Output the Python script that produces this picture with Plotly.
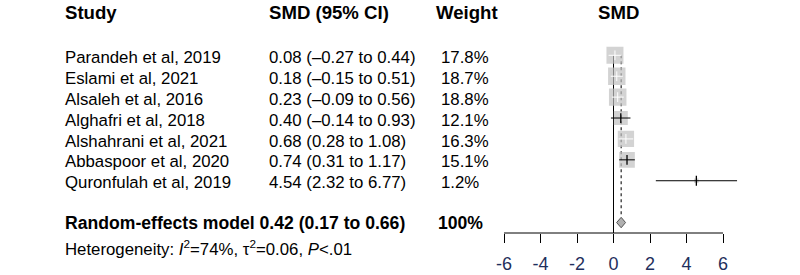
import plotly.graph_objects as go

# ---------------- data ----------------
studies = ["Parandeh et al, 2019", "Eslami et al, 2021", "Alsaleh et al, 2016",
           "Alghafri et al, 2018", "Alshahrani et al, 2021", "Abbaspoor et al, 2020",
           "Quronfulah et al, 2019"]
smd = [0.08, 0.18, 0.23, 0.40, 0.68, 0.74, 4.54]
ci_low = [-0.27, -0.15, -0.09, -0.14, 0.28, 0.31, 2.32]
ci_high = [0.44, 0.51, 0.56, 0.93, 1.08, 1.17, 6.77]
weights = [17.8, 18.7, 18.8, 12.1, 16.3, 15.1, 1.2]

pooled_est = 0.42
pooled_low = 0.17
pooled_high = 0.66
pooled_label = "Random-effects model"
heterogeneity = "Heterogeneity: <i>I</i><sup>2</sup>=74%, τ<sup>2</sup>=0.06, <i>P</i>&lt;.01"

headers = ["Study", "SMD (95% CI)", "Weight", "SMD"]
tick_vals = [-6, -4, -2, 0, 2, 4, 6]
tick_text = ["-6", "-4", "-2", "0", "2", "4", "6"]

# ---------------- layout constants ----------------
W, H = 800, 275
X_RANGE = [-7, 8]
X_DOMAIN = [485.75 / W, 759.5 / W]
PX_PER_UNIT = (X_DOMAIN[1] - X_DOMAIN[0]) * W / (X_RANGE[1] - X_RANGE[0])
Y_RANGE = [8.5, -2.5]
Y_DOMAIN = [(H - 233.0) / H, (H - 3.05) / H]

FONT = "Liberation Sans, Arial, Helvetica, sans-serif"
BODY = 16.8
HEAD = 18.6
SQ_COLOR = "#c0c0c0"
BOX_SCALE = 4.03  # px per sqrt(weight)

rows = list(range(len(studies)))
pooled_row = len(studies) + 1
het_row = pooled_row + 1.2
header_row = -2.05
TEXT_DY = 0.1  # study text sits slightly lower than the boxes


def row_to_paper(r):
    frac = (r - Y_RANGE[1]) / (Y_RANGE[0] - Y_RANGE[1])
    return Y_DOMAIN[1] - frac * (Y_DOMAIN[1] - Y_DOMAIN[0])


fig = go.Figure()

# squares
sizes = [BOX_SCALE * w ** 0.5 for w in weights]
fig.add_trace(go.Scatter(
    x=smd, y=rows, mode="markers",
    marker=dict(symbol="square", size=sizes, color=SQ_COLOR, line=dict(width=0)),
    hoverinfo="skip", showlegend=False))

# CI lines: white if inside square, black otherwise
wx, wy, bx, by = [], [], [], []
wtx, wty, btx, bty = [], [], [], []
for e, lo, hi, s, r in zip(smd, ci_low, ci_high, sizes, rows):
    half = s / 2 / PX_PER_UNIT
    inside = (e - lo) < half and (hi - e) < half
    if inside:
        wx += [lo, hi, None]; wy += [r, r, None]; wtx.append(e); wty.append(r)
    else:
        bx += [lo, hi, None]; by += [r, r, None]; btx.append(e); bty.append(r)

fig.add_trace(go.Scatter(x=wx, y=wy, mode="lines", line=dict(color="white", width=1),
                         hoverinfo="skip", showlegend=False))
fig.add_trace(go.Scatter(x=bx, y=by, mode="lines", line=dict(color="black", width=1),
                         hoverinfo="skip", showlegend=False))
fig.add_trace(go.Scatter(x=wtx, y=wty, mode="markers",
                         marker=dict(symbol="line-ns-open", size=7, color="white",
                                     line=dict(color="white", width=1)),
                         hoverinfo="skip", showlegend=False))
fig.add_trace(go.Scatter(x=btx, y=bty, mode="markers",
                         marker=dict(symbol="line-ns-open", size=7, color="black",
                                     line=dict(color="black", width=1.3)),
                         hoverinfo="skip", showlegend=False))

# diamond
dh = 0.25
fig.add_trace(go.Scatter(
    x=[pooled_low, pooled_est, pooled_high, pooled_est, pooled_low],
    y=[pooled_row, pooled_row - dh, pooled_row, pooled_row + dh, pooled_row],
    mode="lines", fill="toself", fillcolor="#b0b0b0",
    line=dict(color="#555555", width=1), hoverinfo="skip", showlegend=False))

shapes = [
    dict(type="line", xref="x", yref="y", x0=0, x1=0, y0=rows[0], y1=Y_RANGE[0],
         line=dict(color="black", width=1), layer="below"),
    dict(type="line", xref="x", yref="y", x0=pooled_est, x1=pooled_est,
         y0=rows[0], y1=pooled_row - dh,
         line=dict(color="#222222", width=1.2, dash="dot"), layer="below"),
    dict(type="line", xref="x", yref="y domain", x0=tick_vals[0], x1=tick_vals[-1],
         y0=0, y1=0, line=dict(color="black", width=1)),
]

ann = []


def txt(x_px, r, s, size=BODY, bold=False, anchor="left"):
    ann.append(dict(x=x_px / W, xref="paper", y=row_to_paper(r), yref="paper",
                    text=f"<b>{s}</b>" if bold else s,
                    showarrow=False, xanchor=anchor, yanchor="middle", borderpad=0,
                    font=dict(family=FONT, size=size, color="black")))


col_study, col_ci, col_w = 64, 268, 440
txt(col_study, header_row, headers[0], HEAD, True)
txt(col_ci, header_row, headers[1], HEAD, True)
txt(col_w - 5, header_row, headers[2], HEAD, True)
txt(618.7, header_row, headers[3], HEAD, True, anchor="center")


def f(v):
    return f"{v:.2f}".replace("-", "–")


for r, name, e, lo, hi, w in zip(rows, studies, smd, ci_low, ci_high, weights):
    txt(col_study, r + TEXT_DY, name)
    txt(col_ci, r + TEXT_DY, f"{f(e)} ({f(lo)} to {f(hi)})")
    txt(col_w, r + TEXT_DY, f"{w:.1f}%")

txt(col_study, pooled_row, f"{pooled_label} {pooled_est:.2f} ({pooled_low:.2f} to {pooled_high:.2f})", 17.6, True)
txt(col_w - 3, pooled_row, f"{sum(weights):.0f}%", 17.6, True)
txt(col_study, het_row, heterogeneity, BODY)

fig.update_layout(
    width=W, height=H, margin=dict(l=0, r=0, t=0, b=0),
    paper_bgcolor="white", plot_bgcolor="white",
    shapes=shapes, annotations=ann,
    xaxis=dict(domain=X_DOMAIN, range=X_RANGE, tickvals=tick_vals, ticktext=tick_text,
               ticks="outside", ticklen=9, tickwidth=1, tickcolor="black",
               showline=False, showgrid=False, zeroline=False, fixedrange=True,
               ticklabelstandoff=5,
               tickfont=dict(family=FONT, size=18, color="#1f2f5c")),
    yaxis=dict(domain=Y_DOMAIN, range=Y_RANGE, visible=False, fixedrange=True),
)

fig.write_html("out.html", config={"displayModeBar": False},
               post_script="document.body.style.margin='0';")
